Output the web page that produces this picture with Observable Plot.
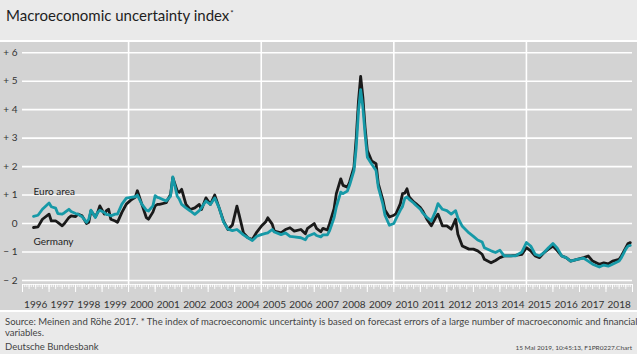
<!DOCTYPE html>
<html><head><meta charset="utf-8">
<script src="https://cdn.jsdelivr.net/npm/d3@7"></script>
<script src="https://cdn.jsdelivr.net/npm/@observablehq/plot@0.6"></script>
<style>
body{margin:0;width:637px;height:354px;overflow:hidden;background:#fff;font-family:Lato,"Open Sans",sans-serif;color:#333;}
#title{height:40px;background:#eaeaea;position:relative;}
#title span{position:absolute;left:6px;top:6px;font-size:15px;line-height:18px;color:#1e1e1e;white-space:nowrap;}
#title sup{font-size:8px;vertical-align:top;position:relative;top:-2px;margin-left:1px;}
.sep{height:2px;background:#fff;}
#chart{height:268px;}
#chart svg{display:block;}
#footer{height:42px;background:#eaeaea;position:relative;font-size:9.5px;color:#444;}
#footer .l{position:absolute;left:5px;white-space:nowrap;line-height:12px;}
#footer .r{position:absolute;right:5px;top:32px;font-size:6.5px;white-space:nowrap;line-height:8px;}
</style></head><body>
<div id="title"><span>Macroeconomic uncertainty index<sup>*</sup></span></div>
<div class="sep"></div>
<div id="chart"></div>
<div class="sep"></div>
<div id="footer">
<div class="l" style="top:4px">Source: Meinen and Röhe 2017. * The index of macroeconomic uncertainty is based on forecast errors of a large number of macroeconomic and financial</div>
<div class="l" style="top:15px">variables.</div>
<div class="l" style="top:29px">Deutsche Bundesbank</div>
<div class="r">15 Mai 2019, 10:45:13, F1PR0227.Chart</div>
</div>
<script>
const months = ["1996-06","1996-08","1996-10","1997-01","1997-02","1997-04","1997-05","1997-07","1997-08","1997-10","1997-11",
"1998-01","1998-02","1998-04","1998-06","1998-07","1998-08","1998-10","1998-11","1998-12",
"1999-02","1999-03","1999-04","1999-05","1999-07","1999-08","1999-10","1999-12",
"2000-02","2000-04","2000-05","2000-07","2000-09","2000-10","2000-12",
"2001-01","2001-02","2001-03","2001-06","2001-08","2001-09","2001-11","2001-12",
"2002-01","2002-03","2002-05","2002-07","2002-09","2002-10","2002-12",
"2003-02","2003-04","2003-06","2003-08","2003-10","2003-12",
"2004-02","2004-03","2004-05","2004-07","2004-09","2004-11",
"2005-01","2005-03","2005-04","2005-06","2005-07","2005-10","2005-12",
"2006-02","2006-04","2006-07","2006-09","2006-10",
"2007-01","2007-02","2007-04","2007-05","2007-07","2007-08","2007-10","2007-11",
"2008-01","2008-02","2008-04","2008-05","2008-07","2008-08","2008-09","2008-10","2008-11","2008-12",
"2009-01","2009-03","2009-05","2009-06","2009-08","2009-09","2009-11",
"2010-01","2010-02","2010-04","2010-05","2010-06","2010-07","2010-08","2010-10","2010-11",
"2011-01","2011-02","2011-04","2011-06","2011-08","2011-09","2011-11",
"2012-01","2012-03","2012-05","2012-06","2012-08","2012-11",
"2013-01","2013-03","2013-05","2013-06","2013-09","2013-11",
"2014-01","2014-03","2014-06","2014-08","2014-11",
"2015-01","2015-03","2015-05","2015-07","2015-09","2015-11",
"2016-01","2016-03","2016-05","2016-07","2016-09","2016-12",
"2017-03","2017-05","2017-07","2017-10","2017-12",
"2018-02","2018-04","2018-07","2018-08","2018-10","2018-11","2018-12"];

const germany = [-0.14,-0.12,0.15,0.33,0.09,0.09,0.04,-0.08,0.00,0.21,0.27,
0.24,0.33,0.27,0.00,0.04,0.45,0.23,0.39,0.62,
0.33,0.45,0.50,0.15,0.09,0.04,0.39,0.68,
0.82,0.92,1.15,0.68,0.21,0.15,0.40,
0.62,0.67,0.67,0.73,1.02,1.61,1.14,1.10,
1.20,0.67,0.49,0.55,0.67,0.49,0.90,
0.67,1.00,0.55,0.08,-0.21,-0.05,
0.61,0.32,-0.33,-0.50,-0.56,-0.30,
-0.10,0.05,0.20,-0.02,-0.27,-0.33,-0.21,
-0.15,-0.27,-0.21,-0.36,-0.17,
0.00,-0.17,-0.29,-0.17,-0.23,0.00,0.52,1.05,
1.57,1.34,1.28,1.45,1.98,3.00,4.30,5.17,4.42,3.37,
2.56,2.20,2.10,1.40,0.85,0.47,0.23,
0.29,0.35,0.70,1.05,1.07,1.22,0.93,0.76,0.70,
0.56,0.45,0.15,-0.08,0.21,0.33,-0.08,
-0.08,-0.20,0.15,-0.38,-0.79,-0.90,
-0.90,-0.96,-1.08,-1.26,-1.38,-1.30,
-1.20,-1.14,-1.14,-1.12,-1.08,
-0.85,-0.96,-1.14,-1.20,-1.02,-0.90,
-0.79,-0.95,-1.14,-1.20,-1.32,-1.26,
-1.20,-1.14,-1.32,-1.43,-1.38,
-1.42,-1.32,-1.26,-1.14,-0.85,-0.70,-0.67];

const euroArea = [0.25,0.29,0.50,0.72,0.59,0.54,0.35,0.33,0.38,0.50,0.42,
0.35,0.33,0.24,0.04,0.15,0.47,0.21,0.39,0.47,
0.39,0.31,0.31,0.27,0.33,0.33,0.68,0.89,
0.92,0.94,1.00,0.68,0.47,0.44,0.62,
0.98,0.92,0.90,0.79,0.96,1.64,0.96,0.85,
0.67,0.55,0.44,0.32,0.45,0.55,0.79,
0.67,0.90,0.55,0.05,-0.20,-0.25,
-0.21,-0.27,-0.40,-0.50,-0.60,-0.45,
-0.39,-0.35,-0.33,-0.21,-0.30,-0.39,-0.33,
-0.45,-0.47,-0.50,-0.57,-0.45,
-0.35,-0.42,-0.47,-0.40,-0.40,-0.25,0.20,0.58,
1.10,1.05,1.14,1.34,1.86,2.67,3.95,4.70,4.07,3.14,
2.33,2.09,1.86,1.28,0.70,0.29,-0.06,
0.00,0.17,0.47,0.60,0.88,0.93,0.85,0.72,0.64,
0.50,0.38,0.22,0.09,0.45,0.70,0.50,
0.45,0.33,0.45,0.20,-0.10,-0.33,
-0.45,-0.58,-0.65,-0.85,-0.96,-1.02,
-0.94,-1.14,-1.14,-1.14,-1.00,
-0.67,-0.79,-1.08,-1.14,-1.02,-0.85,
-0.70,-0.87,-1.14,-1.20,-1.32,-1.26,
-1.22,-1.32,-1.43,-1.53,-1.46,
-1.50,-1.43,-1.32,-1.20,-0.90,-0.79,-0.77];

const yTicks = [-2,-1,0,1,2,3,4,5,6];
const years = d3.range(1996, 2019);
const separatorYears = [2000, 2005, 2010, 2015];
const seriesNames = ["Euro area", "Germany"];

const data = months.map((m, i) => ({date: new Date(m + "-01T00:00:00Z"), germany: germany[i], euro: euroArea[i]}));
const start = new Date(Date.UTC(1996, 0, 1)), end = new Date(Date.UTC(2019, 0, 1));
const monthTicks = d3.utcMonth.range(start, d3.utcDay.offset(end, 1));
const quarterTicks = monthTicks.filter(d => d.getUTCMonth() % 3 === 0);
const yearTicks = monthTicks.filter(d => d.getUTCMonth() === 0);
const midYears = years.map(y => new Date(Date.UTC(y, 6, 1)));
const sepDates = separatorYears.map(y => new Date(Date.UTC(y, 0, 1)));
const yFmt = d => d > 0 ? "+ " + d : d < 0 ? "\u2212 " + (-d) : "0";
const blank = () => "";

const chart = Plot.plot({
  width: 637, height: 268,
  marginLeft: 22, marginRight: 5, marginTop: 0, marginBottom: 26,
  style: {background: "#d3d3d3", fontFamily: "Lato, 'Open Sans', sans-serif", fontSize: "10px", color: "#333", overflow: "visible"},
  x: {type: "utc", domain: [start, end], label: null},
  y: {domain: [-2.143, 6.36], label: null},
  marks: [
    Plot.gridY(yTicks, {stroke: "#fff", strokeOpacity: 1, strokeWidth: 1.6}),
    Plot.ruleX(sepDates, {stroke: "#fff", strokeWidth: 1.6}),
    Plot.frame({anchor: "bottom", stroke: "#fff", strokeOpacity: 0.85}),
    Plot.axisX({ticks: monthTicks, tickSize: 3, tickFormat: blank, stroke: "#fff", strokeOpacity: 0.85}),
    Plot.axisX({ticks: quarterTicks, tickSize: 5, tickFormat: blank, stroke: "#fff", strokeOpacity: 0.85}),
    Plot.axisX({ticks: yearTicks, tickSize: 8, tickFormat: blank, stroke: "#fff"}),
    Plot.axisX({ticks: midYears, tickSize: 0, tickPadding: 16, tickFormat: d3.utcFormat("%Y"), fill: "#333"}),
    Plot.axisY({ticks: yTicks, tickSize: 0, tickPadding: 5, tickFormat: yFmt, fill: "#333"}),
    Plot.line(data, {x: "date", y: "germany", stroke: "#1a1a1a", strokeWidth: 2.8}),
    Plot.line(data, {x: "date", y: "euro", stroke: "#1699a7", strokeWidth: 2.8}),
    Plot.text([data[0]], {x: "date", y: "euro", text: () => seriesNames[0], dy: -25, textAnchor: "start", fill: "#222", fontSize: 10}),
    Plot.text([data[0]], {x: "date", y: "germany", text: () => seriesNames[1], dy: 14, textAnchor: "start", fill: "#222", fontSize: 10})
  ]
});
document.getElementById("chart").appendChild(chart);
</script>
</body></html>
